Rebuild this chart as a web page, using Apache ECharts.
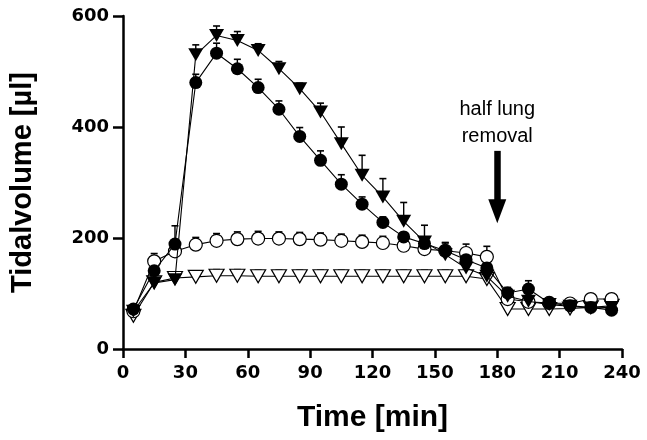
<!DOCTYPE html>
<html>
<head>
<meta charset="utf-8">
<script src="https://cdn.jsdelivr.net/npm/echarts@6/dist/echarts.min.js"></script>
<style>
html,body{margin:0;padding:0;background:#fff;}
#c{width:647px;height:440px;}
</style>
</head>
<body>
<div id="c"></div>
<script>
// Time points (min)
const times = [5,15,25,35,45,55,65,75,85,95,105,115,125,135,145,155,165,175,185,195,205,215,225,235];
// Filled circles
const filledCircle = [72,141,189,480,533,505,471,432,383,340,297,261,228,202,190,177,161,146,101,108,83,78,75,70];
const filledCircleErr = [5,8,33,15,18,17,15,15,16,17,17,13,10,8,10,15,12,10,10,15,6,6,6,5];
// Filled down-triangles
const filledTri = [68,119,125,530,565,556,538,505,469,427,370,313,274,230,193,170,146,131,95,86,80,77,74,75];
const filledTriErr = [5,6,8,18,17,16,12,13,10,16,30,36,33,34,30,12,10,8,10,8,6,5,5,5];
// Open circles
const openCircle = [68,158,176,188,195,198,199,199,198,197,195,193,191,186,180,177,173,166,90,85,83,82,90,90];
const openCircleErr = [4,14,10,13,13,13,13,12,12,12,12,12,12,12,12,14,16,19,8,8,6,5,6,6];
// Open down-triangles
const openTri = [60,120,128,130,132,132,131,131,131,131,131,131,131,131,131,131,131,126,72,72,72,73,75,78];
const openTriErr = [3,5,6,10,11,11,11,11,11,11,11,11,11,11,11,11,11,11,5,5,5,5,5,5];
// Axis ticks
const xTicks = [0,30,60,90,120,150,180,210,240];
const yTicks = [0,200,400,600];
// Annotation
const annotationText = 'half lung\nremoval';
const arrowX = 180, arrowTop = 357, arrowHead = 248;

const chart = echarts.init(document.getElementById('c'), null, {renderer:'canvas'});
const FONT = '"Liberation Sans", Arial, Helvetica, sans-serif';
const TICKFONT = '"DejaVu Sans", "Liberation Sans", sans-serif';

function pts(vals){ return times.map((t,i)=>[t, vals[i]]); }
function errPts(vals, errs){ return times.map((t,i)=>[t, vals[i], errs[i]]); }

function errSeries(vals, errs){
  return {
    type:'custom',
    data: errPts(vals, errs),
    z: 1,
    silent: true,
    renderItem: function(params, api){
      const x = api.value(0), y = api.value(1), e = api.value(2);
      const p0 = api.coord([x, y]);
      const p1 = api.coord([x, y + e]);
      return {type:'group', children:[
        {type:'line', shape:{x1:p0[0], y1:p0[1], x2:p1[0], y2:p1[1]}, style:{stroke:'#000', lineWidth:1.4}},
        {type:'line', shape:{x1:p1[0]-3.5, y1:p1[1], x2:p1[0]+3.5, y2:p1[1]}, style:{stroke:'#000', lineWidth:1.6}}
      ]};
    }
  };
}

function lineSeries(name, vals, symbol, rotate, size, filled, z){
  return {
    name: name,
    type:'line',
    data: pts(vals),
    symbol: symbol,
    symbolRotate: rotate,
    symbolSize: size,
    showAllSymbol: true,
    z: z,
    lineStyle:{color:'#000', width:1.1},
    itemStyle:{color: filled ? '#000' : '#fff', borderColor:'#000', borderWidth: filled ? 0 : 1.2},
    emphasis:{disabled:true},
    animation:false
  };
}

const series = [
  errSeries(openTri, openTriErr),
  errSeries(openCircle, openCircleErr),
  errSeries(filledTri, filledTriErr),
  errSeries(filledCircle, filledCircleErr),
  lineSeries('openTri', openTri, 'triangle', 180, [15,13], false, 2),
  lineSeries('openCircle', openCircle, 'circle', 0, 13, false, 3),
  lineSeries('filledTri', filledTri, 'triangle', 180, [15,13], true, 4),
  Object.assign(lineSeries('filledCircle', filledCircle, 'circle', 0, 13, true, 5), {
    markLine:{
      silent:true,
      animation:false,
      symbol:['none','triangle'],
      symbolSize:[18,24],
      lineStyle:{color:'#000', width:6.5, type:'solid'},
      label:{
        show:true, position:'start', formatter: annotationText,
        fontFamily: FONT, fontSize:20, lineHeight:27, color:'#000', distance:1
      },
      data:[[{coord:[arrowX, arrowTop]}, {coord:[arrowX, arrowHead]}]]
    }
  })
];

chart.setOption({
  animation:false,
  backgroundColor:'#fff',
  grid:{left:122, right:25, top:16, bottom:91},
  xAxis:{
    type:'value', min:xTicks[0], max:xTicks[xTicks.length-1], interval:30,
    name:'Time [min]', nameLocation:'middle', nameGap:54,
    nameTextStyle:{fontFamily:FONT, fontWeight:'bold', fontSize:30, color:'#000'},
    axisLine:{show:true, onZero:false, lineStyle:{color:'#000', width:2.5}},
    axisTick:{show:true, length:9, lineStyle:{color:'#000', width:2.5}},
    axisLabel:{fontFamily:TICKFONT, fontWeight:'bold', fontSize:18, color:'#000', margin:15},
    splitLine:{show:false}
  },
  yAxis:{
    type:'value', min:yTicks[0], max:yTicks[yTicks.length-1], interval:200,
    name:'Tidalvolume [µl]', nameLocation:'middle', nameGap:86,
    nameTextStyle:{fontFamily:FONT, fontWeight:'bold', fontSize:29, color:'#000'},
    axisLine:{show:true, onZero:false, lineStyle:{color:'#000', width:2.5}},
    axisTick:{show:true, length:10, lineStyle:{color:'#000', width:2.5}},
    axisLabel:{fontFamily:TICKFONT, fontWeight:'bold', fontSize:18, color:'#000', margin:14},
    splitLine:{show:false}
  },
  series: series
});
</script>
</body>
</html>
